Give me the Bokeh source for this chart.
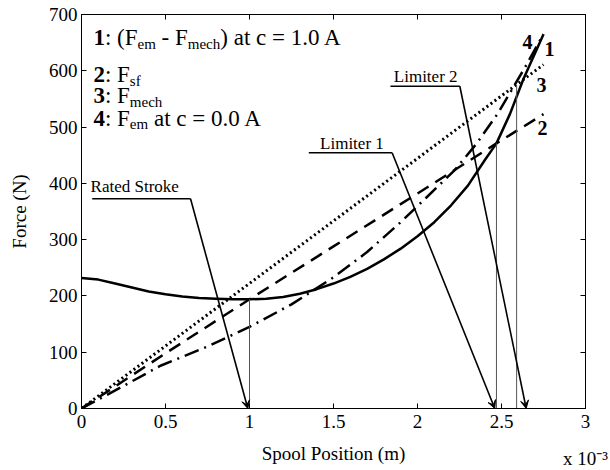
from bokeh.plotting import figure
from bokeh.models import (Range1d, LinearAxis, FixedTicker, Arrow, VeeHead,
                          ColumnDataSource)
from bokeh.core.properties import value
from bokeh.embed import file_html
from bokeh.resources import INLINE

SERIF = "Liberation Serif"

# ---- data (spool position in units of 1e-3 m, force in N) ----
# 1: (F_em - F_mech) at c = 1.0 A
pos_net = [0, 0.1, 0.2, 0.3, 0.4, 0.5, 0.6, 0.7, 0.8, 0.9, 1.0, 1.1, 1.2, 1.3,
           1.4, 1.5, 1.6, 1.7, 1.8, 1.9, 2.0, 2.1, 2.2, 2.3, 2.4, 2.47, 2.55,
           2.63, 2.75]
force_net = [232, 229, 222, 215, 208, 203, 199, 196.5, 195, 194, 194, 195, 198,
             204, 212, 222, 234, 248, 265, 284, 306, 331, 361, 396, 441, 471,
             523, 585, 665]
# 2: F_sf
pos_sf = [0, 0.5, 1.0, 1.5, 2.0, 2.47, 2.75]
force_sf = [0, 98, 194, 288, 382, 471, 523]
# 3: F_mech
pos_mech = [0, 2.75]
force_mech = [0, 611]
# 4: F_em at c = 0.0 A
pos_em0 = [0, 0.25, 0.47, 0.75, 1.0, 1.25, 1.5, 1.7, 1.9, 2.05, 2.22, 2.35,
           2.48, 2.63, 2.75]
force_em0 = [0, 40, 76, 110, 145, 185, 233, 278, 331, 374, 423, 470,
             525, 601, 665]

# drop lines at rated stroke and the two limiter positions
drop_pos = [1.0, 2.47, 2.59]
drop_force = [194, 471, 575]

# curve end labels
end_label_text = ["1", "2", "3", "4"]
end_label_pos = [2.786, 2.744, 2.738, 2.655]
end_label_force = [639, 498, 575, 652]

# callouts: text, text anchor, underline span, arrow target
callout_text = ["Rated Stroke", "Limiter 1", "Limiter 2"]
callout_text_pos = [0.054, 1.42, 1.859]
callout_text_force = [394, 470, 590]
callout_line_x0 = [0.064, 1.353, 1.839]
callout_line_x1 = [0.649, 1.849, 2.252]
callout_line_force = [372.6, 454.3, 572.5]
callout_target = [0.99, 2.46, 2.647]

x_ticks = [0, 0.5, 1, 1.5, 2, 2.5, 3]
x_tick_labels = ["0", "0.5", "1", "1.5", "2", "2.5", "3\nx 10\u207b\u00b3"]
y_ticks = [0, 100, 200, 300, 400, 500, 600, 700]
y_tick_labels = ["0", "100", "200", "300", "400", "500", "600", "700"]

# legend rows: (piece text, kind) with kind in bold / normal / sub
legend_rows = [
    [("1", "bold"), (": (F", "normal"), ("em", "sub"), (" - F", "normal"),
     ("mech", "sub"), (") at c = 1.0 A", "normal")],
    [("2", "bold"), (": F", "normal"), ("sf", "sub")],
    [("3", "bold"), (": F", "normal"), ("mech", "sub")],
    [("4", "bold"), (": F", "normal"), ("em", "sub"), (" at c = 0.0 A", "normal")],
]
legend_force = [659, 593, 556, 516]
legend_pos = 0.071

# ---- figure ----
p = figure(width=610, height=470, x_range=Range1d(0, 3), y_range=Range1d(0, 700),
           output_backend="svg", toolbar_location=None,
           min_border_left=81, min_border_right=25, min_border_top=14,
           min_border_bottom=62, background_fill_color="white",
           border_fill_color="white", outline_line_color="black")
p.grid.visible = False


def style_axis(ax, ticks, labels, show_labels=True):
    ax.ticker = FixedTicker(ticks=ticks)
    ax.major_label_overrides = {t: (l if show_labels else "") for t, l in zip(ticks, labels)}
    ax.major_tick_in = 5
    ax.major_tick_out = 0
    ax.minor_tick_line_color = None
    ax.axis_line_color = "black"
    ax.axis_line_width = 1
    ax.major_tick_line_color = "black"
    ax.major_label_text_font = SERIF
    ax.major_label_text_font_size = "19px"
    ax.major_label_text_color = "black"
    ax.axis_label_text_font = SERIF
    ax.axis_label_text_font_size = "19px"
    ax.axis_label_text_font_style = "normal"
    ax.axis_label_text_color = "black"


xa = p.xaxis[0]
style_axis(xa, x_ticks, x_tick_labels)
xa.axis_label = "Spool Position (m)"
xa.major_label_standoff = 2
xa.major_label_text_line_height = 1.8
xa.axis_label_standoff = -29

ya = p.yaxis[0]
style_axis(ya, y_ticks, y_tick_labels)
ya.axis_label = "Force (N)"
ya.major_label_standoff = 4
ya.axis_label_standoff = 16

top_ax = LinearAxis()
style_axis(top_ax, x_ticks, x_tick_labels, show_labels=False)
p.add_layout(top_ax, "above")
right_ax = LinearAxis()
style_axis(right_ax, y_ticks, y_tick_labels, show_labels=False)
p.add_layout(right_ax, "right")

# ---- curves ----
p.line(pos_mech, force_mech, line_color="black", line_width=3, line_dash="2 3")
p.line(pos_sf, force_sf, line_color="black", line_width=2.5, line_dash="13 8")
p.line(pos_em0, force_em0, line_color="black", line_width=2.5, line_dash="15 6 2 6")
p.line(pos_net, force_net, line_color="black", line_width=2.5, line_join="round")

# drop lines
p.segment(x0=drop_pos, y0=[0] * len(drop_pos), x1=drop_pos, y1=drop_force,
          line_color="#555555", line_width=1)

# callouts
p.segment(x0=callout_line_x0, y0=callout_line_force, x1=callout_line_x1,
          y1=callout_line_force, line_color="black", line_width=1.6)
for x0, y0, xt in zip(callout_line_x1, callout_line_force, callout_target):
    p.add_layout(Arrow(x_start=x0, y_start=y0, x_end=xt, y_end=0,
                       line_color="black", line_width=1.6,
                       end=VeeHead(size=8, fill_color="black", line_color="black",
                                   line_width=1)))
p.text(x=callout_text_pos, y=callout_text_force, text=callout_text,
       text_font=value(SERIF), text_font_size="17px", text_color="black",
       text_align="left", text_baseline="middle")

# curve end labels
p.text(x=end_label_pos, y=end_label_force, text=end_label_text,
       text_font=value(SERIF), text_font_size="20px", text_font_style="bold",
       text_color="black", text_align="center", text_baseline="middle")

# ---- legend text with subscripts ----
W_NORMAL = {" ": 250, "(": 333, ")": 333, "-": 333, ":": 278, ".": 250,
            "=": 564, "A": 722, "F": 556, "a": 444, "c": 444, "e": 444,
            "f": 333, "h": 500, "m": 778, "s": 389, "t": 278}
W_BOLD = {":": 333}
MAIN_SIZE = 23
SUB_SIZE = 15
SUB_DROP = 6


def piece_width(s, kind):
    table = W_BOLD if kind == "bold" else W_NORMAL
    size = SUB_SIZE if kind == "sub" else MAIN_SIZE
    return sum(table.get(ch, 500) for ch in s) / 1000.0 * size


groups = {k: dict(x=[], y=[], text=[], dx=[], dy=[]) for k in ("bold", "normal", "sub")}
for row, fy in zip(legend_rows, legend_force):
    offset = 0.0
    for s, kind in row:
        # leading blanks are not rendered, so advance past them explicitly
        lead = s[:len(s) - len(s.lstrip())]
        offset += piece_width(lead, kind)
        body = s.strip()
        g = groups[kind]
        g["x"].append(legend_pos)
        g["y"].append(fy)
        g["text"].append(body)
        g["dx"].append(offset)
        g["dy"].append(SUB_DROP if kind == "sub" else 0)
        offset += piece_width(s.lstrip(), kind)

for kind, g in groups.items():
    src = ColumnDataSource(g)
    p.text(x="x", y="y", text="text", x_offset="dx", y_offset="dy", source=src,
           text_font=value(SERIF),
           text_font_size=f"{SUB_SIZE if kind == 'sub' else MAIN_SIZE}px",
           text_font_style="bold" if kind == "bold" else "normal",
           text_color="black", text_align="left", text_baseline="middle")

open("out.html", "w").write(file_html(p, INLINE))
